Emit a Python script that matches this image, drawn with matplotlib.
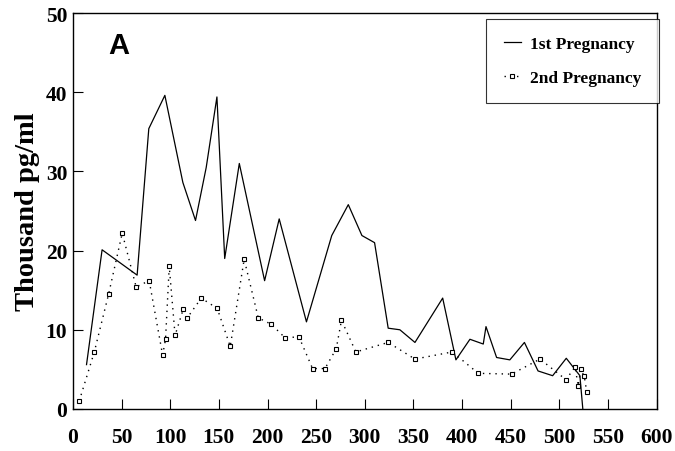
# Hormone level over time, 1st vs 2nd pregnancy (panel A)
import numpy as np
import matplotlib.pyplot as plt

# 1st pregnancy (solid line)
x1 = [14, 30, 66, 78, 94.5, 113, 126, 137, 148, 156, 171, 197, 212, 240, 266, 283,
      297, 310, 324, 336, 351.5, 380, 393.6, 408, 421.7, 424.5, 435.4, 449, 464,
      478, 493, 507, 521, 524]
y1 = [5.6, 20.1, 16.9, 35.4, 39.6, 28.6, 23.8, 30.5, 39.4, 19.0, 31.0, 16.2, 24.0,
      11.0, 21.9, 25.8, 21.9, 21.0, 10.2, 10.0, 8.4, 14.0, 6.2, 8.8, 8.2, 10.4, 6.5,
      6.2, 8.4, 4.8, 4.2, 6.4, 4.2, 0]

# 2nd pregnancy (dotted line, square markers)
x2 = [6.5, 22, 36.7, 50.7, 65, 78.4, 92.2, 95.2, 99, 105, 113.4, 117.5, 131.9,
      148.3, 161.7, 176, 190.5, 203.8, 217.9, 232.3, 246.3, 259, 270.6, 276, 290.8,
      324, 351.5, 389.8, 416.6, 450.8, 480, 506.7, 516, 519.3, 521.8, 525.5, 528]
y2 = [1.0, 7.2, 14.5, 22.2, 15.4, 16.2, 6.8, 8.8, 18.0, 9.3, 12.6, 11.5, 14.0,
      12.7, 7.9, 18.9, 11.5, 10.7, 9.0, 9.1, 5.1, 5.1, 7.6, 11.2, 7.2,
      8.4, 6.3, 7.2, 4.5, 4.4, 6.3, 3.7, 5.3, 2.9, 5.0, 4.1, 2.2]

xticks = np.arange(0, 601, 50)
yticks = np.arange(0, 51, 10)

plt.rcParams['font.family'] = 'Liberation Serif'

fig = plt.figure(figsize=(6.75, 4.52), dpi=100)
ax = fig.add_axes([0.108, 0.093, 0.865, 0.876])

ax.plot(x1, y1, color='black', lw=0.9, label='1st Pregnancy')
ax.plot(x2, y2, color='black', lw=1.0, ls=(0, (1, 3.5)), marker='s', ms=3.5,
        mfc='white', mec='black', mew=0.8, label='2nd Pregnancy')

ax.set_xlim(0, 600)
ax.set_ylim(0, 50)
ax.set_xticks(xticks)
ax.set_yticks(yticks)
ax.tick_params(direction='in', length=7, width=0.8, labelsize=15.5)
ax.tick_params(axis='x', pad=13)
ax.tick_params(axis='y', pad=4)
for lab in ax.get_xticklabels() + ax.get_yticklabels():
    lab.set_fontweight('bold')
for s in ax.spines.values():
    s.set_linewidth(1.0)

ax.set_ylabel('Thousand pg/ml', fontsize=20.5, fontweight='bold')
ax.yaxis.set_label_coords(-0.057, 0.5)

ax.text(0.078, 0.899, 'A', transform=ax.transAxes, fontsize=21,
        fontweight='bold', family='Liberation Sans', ha='center', va='baseline')

leg = ax.legend(loc='upper right', bbox_to_anchor=(1.003, 0.985),
                prop={'weight': 'bold', 'size': 12.5}, frameon=True, fancybox=False,
                handlelength=1.0, handletextpad=0.5, borderpad=1.0,
                labelspacing=1.0, borderaxespad=0)
leg.get_frame().set_edgecolor('black')
leg.get_frame().set_linewidth(0.8)

fig.savefig('out.png', dpi=100)
